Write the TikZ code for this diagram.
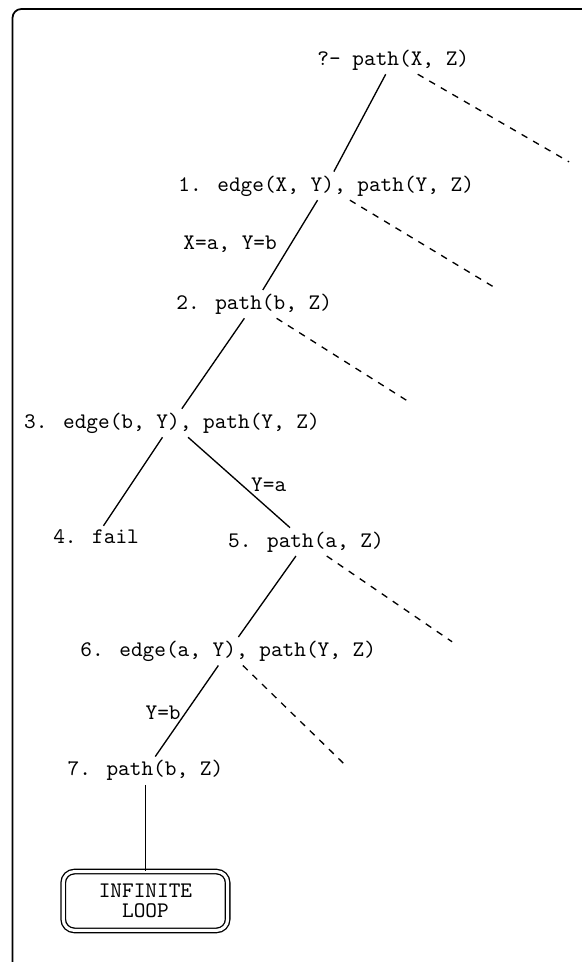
\documentclass[tikz,border=0pt]{standalone}
\begin{document}
\begin{tikzpicture}[font=\ttfamily, semithick]
\tikzstyle{goal}=[inner sep=1.5pt]
\tikzstyle{lbl}=[inner sep=1pt]
\tikzstyle{loopbox}=[draw, double, double distance=1.4pt, rounded corners=5pt, align=center, minimum width=2.6cm, minimum height=0.93cm]
\tikzstyle{alt}=[dashed]
\useasboundingbox (0,0) rectangle (9.189,-15.215);
\draw[line width=0.8pt, rounded corners=4pt] (0.198,-0.142) rectangle (9.7,-15.7);

\node[goal] (g0) at (6.22,-0.95) {?- path(X, Z)};
\node[goal] (g1) at (5.16,-2.94) {1. edge(X, Y), path(Y, Z)};
\node[goal] (g2) at (4.02,-4.81) {2. path(b, Z)};
\node[goal] (g3) at (2.72,-6.69) {3. edge(b, Y), path(Y, Z)};
\node[goal] (g4) at (1.52,-8.49) {4. fail};
\node[goal] (g5) at (4.84,-8.57) {5. path(a, Z)};
\node[goal] (g6) at (3.61,-10.30) {6. edge(a, Y), path(Y, Z)};
\node[goal] (g7) at (2.30,-12.19) {7. path(b, Z)};
\node[loopbox] (inf) at (2.30,-14.25) {INFINITE\\[-3pt]LOOP};

% bindings
\node[lbl] (b12) at (3.64,-3.86) {X=a, Y=b};
\node[lbl] (b35) at (4.25,-7.66) {Y=a};
\node[lbl] (b67) at (2.58,-11.28) {Y=b};

\draw (g0) -- (g1); \draw (g1) -- (g2); \draw (g2) -- (g3);
\draw (g3) -- (g4); \draw (g3) -- (g5); \draw (g5) -- (g6);
\draw (g6) -- (g7); \draw (g7) -- (inf);

% other branches, not explored
\coordinate (d0) at (9.00,-2.56); \coordinate (d1) at (7.81,-4.54); \coordinate (d2) at (6.49,-6.37);
\coordinate (d5) at (7.15,-10.15); \coordinate (d6) at (5.43,-12.07);
\draw[alt] (g0) -- (d0); \draw[alt] (g1) -- (d1); \draw[alt] (g2) -- (d2);
\draw[alt] (g5) -- (d5); \draw[alt] (g6) -- (d6);
\end{tikzpicture}
\end{document}
